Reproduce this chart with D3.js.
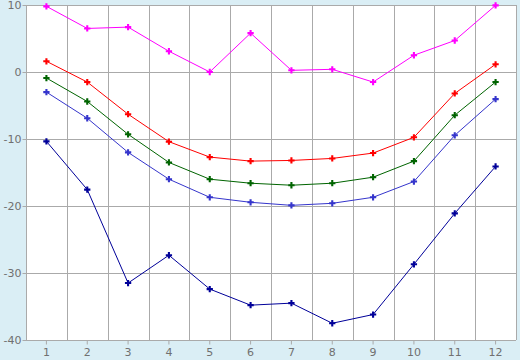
<!DOCTYPE html>
<html>
<head>
<meta charset="utf-8">
<script src="https://cdn.jsdelivr.net/npm/d3@7"></script>
<style>
  body { margin: 0; background: #daeef5; }
  svg { display: block; }
</style>
</head>
<body>
<div id="chart"></div>
<script>
// months along the bottom
var months = [1, 2, 3, 4, 5, 6, 7, 8, 9, 10, 11, 12];
var yTicks = [10, 0, -10, -20, -30, -40];

// series, top to bottom
var magenta = [9.8, 6.5, 6.7, 3.1, 0, 5.8, 0.25, 0.4, -1.5, 2.5, 4.7, 9.95];
var red     = [1.6, -1.5, -6.3, -10.4, -12.7, -13.3, -13.2, -12.9, -12.1, -9.75, -3.2, 1.15];
var green   = [-0.9, -4.4, -9.3, -13.5, -16.0, -16.6, -16.9, -16.6, -15.7, -13.3, -6.45, -1.5];
var blue    = [-3.0, -6.9, -12.0, -16.0, -18.7, -19.45, -19.9, -19.6, -18.7, -16.35, -9.45, -4.05];
var navy    = [-10.35, -17.55, -31.5, -27.35, -32.4, -34.8, -34.5, -37.5, -36.2, -28.7, -21.1, -14.1];

var seriesList = [magenta, red, green, blue, navy];
var colors = ["#ff00ff", "#ff0000", "#006400", "#3535cc", "#000099"];

var width = 520, height = 360;
var margin = {top: 5, right: 4, bottom: 20, left: 26};

var svg = d3.select("#chart")
  .append("svg")
    .attr("width", width)
    .attr("height", height)
    .style("background-color", "#daeef5");

var x = d3.scaleBand()
  .domain(months)
  .range([margin.left, width - margin.right]);

var y = d3.scaleLinear()
  .domain([-40, 10])
  .range([height - margin.bottom, margin.top]);

// white plot area
svg.append("rect")
  .attr("x", margin.left)
  .attr("y", margin.top)
  .attr("width", width - margin.left - margin.right)
  .attr("height", height - margin.top - margin.bottom)
  .attr("fill", "#ffffff");

// grid: horizontal at value ticks, vertical at band edges
var grid = svg.append("g").attr("stroke", "#aaaaaa").attr("stroke-width", 1);
grid.selectAll("line.h")
  .data(yTicks)
  .enter()
  .append("line")
    .attr("x1", margin.left)
    .attr("x2", width - margin.right)
    .attr("y1", function(d) { return Math.round(y(d)) + 0.5; })
    .attr("y2", function(d) { return Math.round(y(d)) + 0.5; });

var edges = months.map(function(m) { return x(m); }).concat([x(12) + x.bandwidth()]);
grid.selectAll("line.v")
  .data(edges)
  .enter()
  .append("line")
    .attr("x1", function(d) { return Math.round(d) + 0.5; })
    .attr("x2", function(d) { return Math.round(d) + 0.5; })
    .attr("y1", margin.top)
    .attr("y2", height - margin.bottom);

// axes
var xAxis = svg.append("g")
  .attr("transform", "translate(0," + (Math.round(y(-40)) + 0.5) + ")")
  .call(d3.axisBottom(x).tickSize(4).tickSizeOuter(0).tickPadding(4));

var yAxis = svg.append("g")
  .attr("transform", "translate(" + (margin.left + 0.5) + ",0)")
  .call(d3.axisLeft(y).tickValues(yTicks).tickSize(4).tickSizeOuter(0).tickPadding(1)
    .tickFormat(function(d) { return String(d); }));

[xAxis, yAxis].forEach(function(a) {
  a.select(".domain").remove();
  a.selectAll(".tick line").attr("stroke", "#aaaaaa");
  a.selectAll(".tick text")
    .attr("fill", "#707070")
    .style("font-family", "'DejaVu Sans', Verdana, sans-serif")
    .style("font-size", "11px");
});

// lines and markers
var line = d3.line()
  .x(function(d, i) { return x(months[i]) + x.bandwidth() / 2; })
  .y(function(d) { return y(d); });

var plus = d3.symbol().type(d3.symbolCross).size(22);

seriesList.forEach(function(values, k) {
  svg.append("path")
    .datum(values)
    .attr("fill", "none")
    .attr("stroke", colors[k])
    .attr("stroke-width", 1)
    .attr("d", line);

  svg.selectAll("path.m" + k)
    .data(values)
    .enter()
    .append("path")
      .attr("class", "m" + k)
      .attr("d", plus)
      .attr("fill", colors[k])
      .attr("transform", function(d, i) {
        return "translate(" + (x(months[i]) + x.bandwidth() / 2) + "," + y(d) + ")";
      });
});
</script>
</body>
</html>
